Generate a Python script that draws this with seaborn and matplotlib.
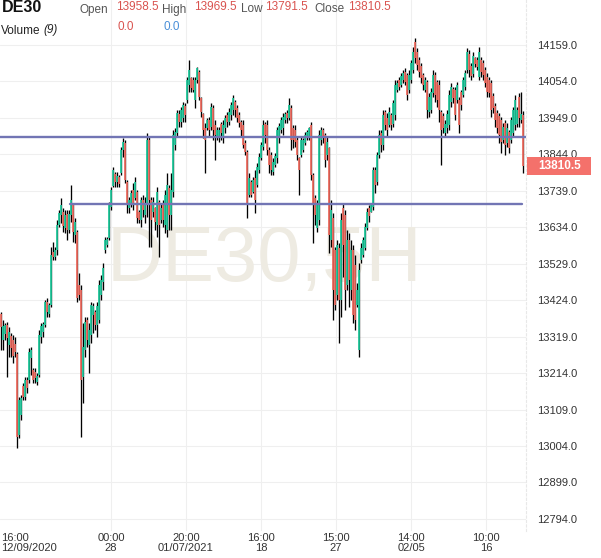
import numpy as np
import pandas as pd
import matplotlib
matplotlib.use("Agg")
import matplotlib.pyplot as plt
import matplotlib.transforms as mtransforms
from matplotlib.patches import Rectangle
import seaborn as sns

# ---------------- data (DE30, 4H bars) ----------------
opens = [
    13384, 13309, 13327, 13353, 13295, 13321, 13309, 13298, 13269, 13036,
    13093, 13177, 13145, 13194, 13194, 13257, 13223, 13217, 13189, 13209,
    13318, 13332, 13353, 13419, 13384, 13410, 13563, 13549, 13569, 13641,
    13669, 13678, 13632, 13672, 13626, 13669, 13698, 13612, 13620, 13468,
    13453, 13203, 13281, 13367, 13295, 13324, 13381, 13390, 13353, 13367,
    13439, 13476, 13569, 13583, 13603, 13693, 13753, 13787, 13764, 13779,
    13790, 13857, 13877, 13764, 13690, 13704, 13741, 13718, 13736, 13678,
    13655, 13713, 13669, 13698, 13885, 13713, 13678, 13690, 13641, 13707,
    13655, 13698, 13641, 13626, 13747, 13669, 13736, 13871, 13906, 13960,
    13937, 13949, 13983, 14001, 14044, 14064, 14058, 14001, 14058, 14081,
    14006, 13960, 13920, 13920, 13943, 13923, 13978, 13929, 13897, 13891,
    13931, 13891, 13920, 13957, 13937, 13957, 13972, 13995, 13978, 13957,
    13937, 13929, 13877, 13851, 13727, 13764, 13736, 13776, 13756, 13799,
    13834, 13865, 13931, 13929, 13857, 13842, 13793, 13813, 13834, 13891,
    13914, 13920, 13943, 13963, 13949, 13978, 13920, 13914, 13885, 13834,
    13842, 13857, 13877, 13891, 13894, 13929, 13785, 13718, 13632, 13655,
    13885, 13914, 13900, 13842, 13862, 13597, 13661, 13569, 13439, 13574,
    13425, 13690, 13669, 13468, 13597, 13453, 13569, 13525, 13410, 13281,
    13540, 13554, 13574, 13632, 13690, 13678, 13693, 13799, 13764, 13842,
    13906, 13871, 13966, 13949, 13929, 13957, 13931, 13957, 14029, 14058,
    14044, 14058, 14081, 14073, 14029, 14058, 14087, 14168, 14139, 14116,
    14099, 14073, 14029, 14053, 13966, 13972, 14021, 14073, 14053, 14044,
    13966, 13955, 13906, 13920, 13929, 13995, 14032, 14029, 14001, 14001,
    14024, 14015, 14038, 14087, 14133, 14099, 14076, 14122, 14116, 14067,
    14116, 14107, 14087, 14067, 14058, 14050, 14012, 13983, 13963, 13955,
    13943, 13885, 13934, 13877, 13908, 13885, 13906, 13929, 13931, 14009,
    13943, 13958.5,
]
highs = [
    13390, 13367, 13358, 13361, 13347, 13330, 13324, 13318, 13275, 13145,
    13151, 13186, 13203, 13203, 13286, 13289, 13229, 13229, 13214, 13338,
    13358, 13361, 13425, 13430, 13416, 13577, 13592, 13577, 13655, 13684,
    13718, 13690, 13684, 13684, 13684, 13756, 13704, 13661, 13626, 13502,
    13468, 13358, 13376, 13376, 13358, 13419, 13416, 13396, 13419, 13482,
    13497, 13531, 13606, 13606, 13707, 13750, 13808, 13793, 13793, 13785,
    13865, 13891, 13885, 13770, 13721, 13741, 13762, 13779, 13741, 13684,
    13721, 13727, 13721, 13906, 13894, 13721, 13721, 13693, 13750, 13713,
    13704, 13713, 13741, 13790, 13756, 13790, 13914, 13920, 13972, 13972,
    13980, 13995, 13992, 14067, 14116, 14067, 14067, 14067, 14096, 14087,
    14009, 13963, 13934, 13949, 13952, 13992, 13986, 13943, 13923, 13923,
    13937, 13943, 13957, 13966, 13978, 13995, 14015, 14001, 13986, 13966,
    13943, 13943, 13885, 13857, 13790, 13770, 13779, 13799, 13819, 13848,
    13880, 13943, 13937, 13943, 13865, 13851, 13834, 13848, 13923, 13934,
    13952, 13963, 13966, 13972, 14006, 13986, 13929, 13929, 13894, 13836,
    13894, 13891, 13908, 13914, 13923, 13937, 13790, 13727, 13713, 13914,
    13923, 13920, 13906, 13894, 13865, 13713, 13675, 13577, 13597, 13589,
    13675, 13704, 13684, 13626, 13618, 13597, 13583, 13554, 13474, 13531,
    13589, 13606, 13646, 13690, 13698, 13704, 13808, 13808, 13851, 13914,
    13914, 13972, 13972, 13963, 13980, 13963, 14001, 14058, 14058, 14067,
    14078, 14087, 14093, 14078, 14087, 14116, 14153, 14179, 14150, 14124,
    14107, 14078, 14067, 14058, 14021, 14035, 14087, 14081, 14058, 14058,
    13972, 13963, 13943, 13972, 14029, 14050, 14038, 14038, 14052, 14009,
    14029, 14067, 14087, 14150, 14145, 14107, 14139, 14124, 14124, 14153,
    14124, 14116, 14096, 14078, 14067, 14058, 14021, 13992, 13972, 13963,
    13952, 13934, 13943, 13934, 13914, 13952, 13980, 14015, 13980, 14021,
    14024, 13969.5,
]
lows = [
    13281, 13281, 13309, 13203, 13260, 13260, 13243, 13260, 12998, 13027,
    13079, 13137, 13137, 13157, 13186, 13209, 13186, 13186, 13180, 13203,
    13301, 13318, 13347, 13376, 13376, 13405, 13540, 13540, 13554, 13635,
    13646, 13620, 13617, 13597, 13617, 13649, 13592, 13589, 13419, 13425,
    13030, 13128, 13260, 13289, 13214, 13301, 13330, 13338, 13318, 13358,
    13425, 13453, 13560, 13577, 13597, 13684, 13750, 13750, 13750, 13750,
    13785, 13836, 13762, 13675, 13675, 13693, 13684, 13713, 13646, 13646,
    13635, 13664, 13646, 13664, 13577, 13577, 13664, 13626, 13606, 13549,
    13646, 13635, 13617, 13606, 13626, 13626, 13721, 13857, 13894, 13923,
    13923, 13937, 13937, 13992, 14024, 14024, 14024, 13978, 14050, 14001,
    13952, 13891, 13790, 13914, 13894, 13914, 13885, 13828, 13885, 13880,
    13885, 13877, 13906, 13923, 13929, 13943, 13957, 13952, 13937, 13923,
    13894, 13862, 13842, 13661, 13721, 13721, 13733, 13675, 13750, 13790,
    13828, 13857, 13877, 13842, 13790, 13785, 13785, 13808, 13819, 13877,
    13906, 13900, 13934, 13934, 13943, 13857, 13862, 13865, 13828, 13727,
    13836, 13851, 13871, 13885, 13885, 13770, 13589, 13641, 13620, 13641,
    13871, 13877, 13808, 13828, 13560, 13577, 13367, 13396, 13425, 13301,
    13376, 13491, 13396, 13453, 13405, 13425, 13358, 13338, 13405, 13260,
    13531, 13549, 13569, 13626, 13649, 13678, 13684, 13733, 13756, 13834,
    13851, 13857, 13914, 13894, 13923, 13914, 13923, 13943, 14024, 14029,
    14038, 14050, 14044, 14001, 14021, 14050, 14078, 14107, 14087, 14067,
    14050, 14029, 14024, 13949, 13952, 13963, 14009, 13995, 13980, 13937,
    13813, 13906, 13894, 13906, 13914, 13980, 13992, 13943, 13992, 13906,
    13972, 14009, 14029, 14078, 14067, 14058, 14067, 14096, 14087, 14058,
    14067, 14058, 14038, 14009, 14009, 13952, 13963, 13923, 13906, 13877,
    13848, 13877, 13842, 13865, 13848, 13877, 13894, 13914, 13923, 13923,
    13934, 13791.5,
]
closes = [
    13347, 13350, 13353, 13315, 13332, 13286, 13263, 13275, 13030, 13137,
    13142, 13145, 13194, 13171, 13275, 13281, 13194, 13200, 13206, 13324,
    13350, 13356, 13419, 13390, 13410, 13554, 13549, 13569, 13641, 13675,
    13698, 13638, 13669, 13626, 13672, 13713, 13620, 13649, 13430, 13439,
    13194, 13289, 13361, 13309, 13338, 13410, 13407, 13353, 13407, 13468,
    13482, 13517, 13597, 13600, 13698, 13741, 13799, 13764, 13782, 13759,
    13857, 13880, 13770, 13698, 13713, 13733, 13698, 13764, 13661, 13655,
    13713, 13684, 13698, 13885, 13713, 13655, 13707, 13649, 13736, 13641,
    13690, 13655, 13727, 13756, 13669, 13741, 13900, 13908, 13963, 13937,
    13972, 13986, 13957, 14058, 14087, 14035, 14029, 14058, 14093, 14009,
    13966, 13914, 13885, 13943, 13914, 13980, 13914, 13900, 13914, 13914,
    13906, 13929, 13949, 13937, 13966, 13986, 14006, 13972, 13949, 13934,
    13914, 13871, 13851, 13698, 13776, 13727, 13770, 13713, 13808, 13836,
    13871, 13929, 13900, 13857, 13813, 13799, 13822, 13839, 13914, 13926,
    13943, 13952, 13960, 13949, 13986, 13885, 13885, 13880, 13842, 13799,
    13885, 13885, 13900, 13908, 13920, 13785, 13698, 13669, 13698, 13900,
    13914, 13891, 13828, 13880, 13612, 13684, 13453, 13410, 13583, 13425,
    13655, 13583, 13453, 13597, 13482, 13569, 13381, 13367, 13453, 13511,
    13574, 13597, 13635, 13678, 13667, 13698, 13799, 13756, 13842, 13900,
    13871, 13957, 13929, 13914, 13966, 13929, 13992, 14044, 14050, 14038,
    14070, 14078, 14052, 14015, 14073, 14107, 14139, 14122, 14101, 14081,
    14064, 14044, 14058, 13972, 14009, 14024, 14073, 14015, 14001, 13972,
    13914, 13920, 13931, 13960, 14015, 14038, 14006, 13957, 14044, 13929,
    13986, 14058, 14078, 14139, 14087, 14070, 14127, 14104, 14096, 14139,
    14081, 14073, 14050, 14024, 14021, 13972, 13978, 13943, 13920, 13900,
    13880, 13923, 13871, 13920, 13862, 13943, 13972, 14001, 13972, 13949,
    13960, 13810.5,
]

price_ticks = [14159.0, 14054.0, 13949.0, 13844.0, 13739.0, 13634.0, 13529.0,
               13424.0, 13319.0, 13214.0, 13109.0, 13004.0, 12899.0, 12794.0]
time_tick_bars = [55, 92.5, 130, 167.5, 205, 242.5]
time_tick_labels = ["00:00\n28", "20:00\n01/07/2021", "16:00\n18",
                    "15:00\n27", "14:00\n02/05", "10:00\n16"]
first_time_label = "16:00\n12/09/2020"

level_prices = [13894, 13701]
level_start_bar = [-0.5, 34.5]
level_end_bar = [262.5, 260.5]

header_ohlc = ["13958.5", "13969.5", "13791.5", "13810.5"]
last_close = 13810.5

# ---------------- build frame ----------------
n = min(len(opens), len(highs), len(lows), len(closes))
df = pd.DataFrame({
    "bar": np.arange(n),
    "open": opens[:n], "high": highs[:n], "low": lows[:n], "close": closes[:n],
})
df["up"] = df["close"] >= df["open"]

sns.set_theme(style="white")
plt.rcParams["font.family"] = ["Liberation Sans", "DejaVu Sans"]

W, H = 601, 558
fig = plt.figure(figsize=(W / 100, H / 100), dpi=100)
fig.patch.set_facecolor("white")
ax = fig.add_axes([0, 27 / H, 526 / W, 531 / H])
ax.set_facecolor("white")

GREEN = "#1cc99b"
RED = "#f06a5e"
GRID = "#efefef"

ax.set_xlim(-0.5, 262.5)
ax.set_ylim(12759.3, 14288.6)

for v in price_ticks:
    ax.axhline(v, color=GRID, lw=0.8, zorder=0)
for v in time_tick_bars:
    ax.axvline(v, color=GRID, lw=0.8, zorder=0)

# watermark
ax.text(0.502, 0.51, "DE30,5H", transform=ax.transAxes, fontsize=56,
        color="#eeebe2", ha="center", va="center", zorder=0.5)

# candles
ax.vlines(df["bar"], df["low"], df["high"], color="#000000", lw=0.95, zorder=2)
up = df[df["up"]]
dn = df[~df["up"]]
ax.vlines(up["bar"], up["open"], up["close"], color=GREEN, lw=1.25, zorder=3)
ax.vlines(dn["bar"], dn["open"], dn["close"], color=RED, lw=1.25, zorder=3)

# support / resistance lines
for p, s, e in zip(level_prices, level_start_bar, level_end_bar):
    lv = pd.DataFrame({"bar": [s, e], "price": [p, p]})
    sns.lineplot(data=lv, x="bar", y="price", ax=ax, color="#7275b4",
                 lw=1.7, zorder=4, legend=False)

ax.set_xlabel("")
ax.set_ylabel("")

# axes / ticks
ax.yaxis.tick_right()
ax.set_yticks(price_ticks)
ax.set_yticklabels([f"{v:.1f}" for v in price_ticks])
ax.tick_params(axis="y", length=0, pad=8, labelsize=8, labelcolor="#333333")
ax.set_xticks(time_tick_bars)
ax.set_xticklabels(time_tick_labels)
ax.tick_params(axis="x", length=0, pad=1.5, labelsize=8, labelcolor="#333333")
for lbl in ax.get_xticklabels():
    lbl.set_linespacing(0.95)
ax.text(0.002, -0.004, first_time_label, transform=ax.transAxes, ha="left",
        va="top", fontsize=8, color="#333333", linespacing=0.95)

for s in ["top", "left", "bottom"]:
    ax.spines[s].set_visible(False)
ax.spines["right"].set_color("#e8e8e8")
ax.spines["right"].set_linewidth(0.8)
ax.spines["right"].set_linestyle((0, (2, 2)))

# last price tag
trans = mtransforms.blended_transform_factory(ax.transAxes, ax.transData)
ax.add_patch(Rectangle((1.002, last_close - 25), 0.122, 50, transform=trans,
                       clip_on=False, facecolor="#f4716b", edgecolor="none",
                       zorder=5))
ax.text(1.063, last_close, f"{last_close:.1f}", transform=trans, ha="center",
        va="center", color="white", fontsize=8.5, fontweight="bold",
        clip_on=False, zorder=6)

# header
def ft(px, py, s, **kw):
    fig.text(px / W, 1 - py / H, s, va="center", ha="left", **kw)

RED_T = "#d9534f"
ft(2, 8, "DE30", fontsize=11.5, fontweight="bold", color="#111111")
ft(79, 9.5, "Open", fontsize=8.5, color="#555555")
ft(116, 6.5, header_ohlc[0], fontsize=8.5, color=RED_T)
ft(162, 9.5, "High", fontsize=8.5, color="#555555")
ft(194, 6.5, header_ohlc[1], fontsize=8.5, color=RED_T)
ft(241, 9.5, "Low", fontsize=8.5, color="#555555")
ft(265, 6.5, header_ohlc[2], fontsize=8.5, color=RED_T)
ft(314, 9.5, "Close", fontsize=8.5, color="#555555")
ft(348, 6.5, header_ohlc[3], fontsize=8.5, color=RED_T)
ft(1, 30.5, "Volume", fontsize=8.5, color="#222222")
ft(43, 30.5, "(9)", fontsize=8.5, color="#222222", style="italic")
ft(117, 27.5, "0.0", fontsize=8.5, color=RED_T)
ft(163, 27.5, "0.0", fontsize=8.5, color="#4a8fd8")

fig.savefig("out.png", dpi=100, facecolor="white")
